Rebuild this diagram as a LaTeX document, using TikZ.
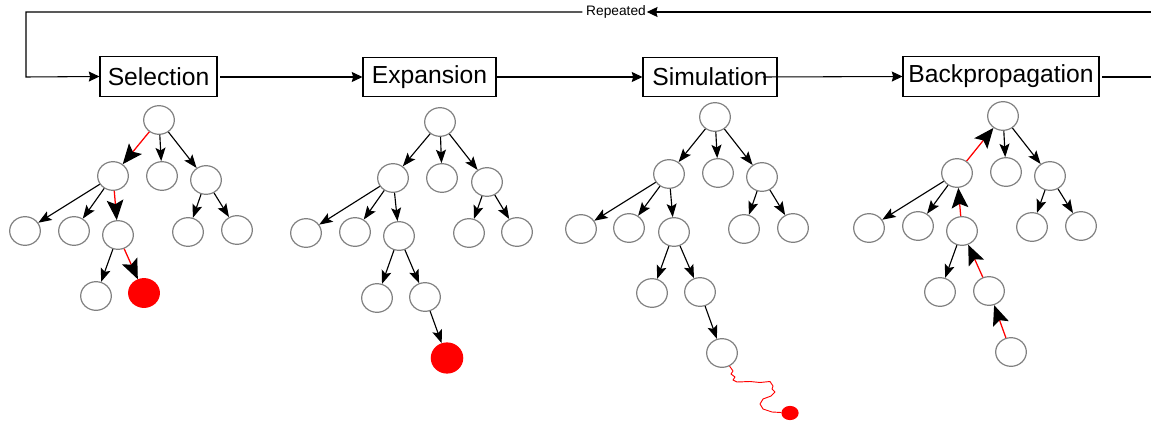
\documentclass[tikz,border=0pt]{standalone}
\usepackage{fontspec}
\setmainfont{Liberation Sans}
\usetikzlibrary{arrows.meta,shapes.geometric}
\begin{document}
\begin{tikzpicture}[x=0.75pt,y=-0.75pt,
 nd/.style={ellipse,draw=black!50,line width=0.9pt,fill=white,minimum width=23pt,minimum height=21.5pt,inner sep=0pt},
 hit/.style={nd,draw=red,fill=red},
 box/.style={draw,line width=0.8pt,fill=white,minimum height=29.5pt,inner sep=0pt,font=\fontsize{18.5}{20}\selectfont},
 flow/.style={line width=0.8pt,-{Stealth[length=8pt,width=7.5pt,inset=1pt]}},
 ed/.style={line width=0.85pt,-{Stealth[length=10pt,width=7.5pt,inset=2pt]}},
 sel/.style={line width=0.95pt,red,-{Stealth[length=15pt,width=12.5pt,inset=3pt,color=black]}},
]
\useasboundingbox (0,0) rectangle (1151,424);
% stage boxes
\node[box,minimum width=87.75pt] (s1) at (158.5,76.5) {Selection};
\node[box,minimum width=99.75pt] (s2) at (429.5,77) {\raisebox{2pt}{Expansion}};
\node[box,minimum width=100.5pt] (s3) at (710,77) {Simulation};
\node[box,minimum width=147pt] (s4) at (1001,76.5) {Backpropagation};
\node[font=\fontsize{10.3}{12}\selectfont,inner sep=0.6pt] (rep) at (616,12) {Repeated};
\coordinate (tr) at (1151.5,12);
\coordinate (tl) at (26,12);
\coordinate (bl) at (26,77);
\coordinate (br) at (1151.5,77);
\coordinate (s1o) at (220,77);
\coordinate (s2o) at (496,77);
\coordinate (s3o) at (763,77);
\coordinate (s4o) at (1102,77);
\draw[flow] (s1o) -- (s2.west);
\draw[flow] (s2o) -- (s3.west);
\draw[flow] (s3o) -- (s4.west);
\draw[flow] (s4o) -- (br) -- (tr) -- (rep.east);
\draw[flow] ([xshift=-2pt]rep.west) -- (tl) -- (bl) -- (s1.west);
% tree 1: selection
\node[nd] (a0) at (159,120) {};
\node[nd] (a1) at (113,176) {};
\node[nd] (a2) at (162,176) {};
\node[nd] (a3) at (206,180) {};
\node[nd] (a4) at (25,231) {};
\node[nd] (a5) at (74,231) {};
\node[nd] (a6) at (118,235) {};
\node[nd] (a7) at (188,232) {};
\node[nd] (a8) at (237,230) {};
\node[nd] (a9) at (96,296) {};
\node[hit] (a10) at (144,293) {};
\draw[sel] (a0) -- (a1);
\draw[ed] (a0) -- (a2);
\draw[ed] (a0) -- (a3);
\draw[ed] (a1) -- (a4);
\draw[ed] (a1) -- (a5);
\draw[sel] (a1) -- (a6);
\draw[ed] (a3) -- (a7);
\draw[ed] (a3) -- (a8);
\draw[ed] (a6) -- (a9);
\draw[sel] (a6) -- (a10);
% tree 2: expansion
\node[nd] (b0) at (440,122) {};
\node[nd] (b1) at (393,178) {};
\node[nd] (b2) at (442,178) {};
\node[nd] (b3) at (487,182) {};
\node[nd] (b4) at (306,233) {};
\node[nd] (b5) at (355,232) {};
\node[nd] (b6) at (399,236) {};
\node[nd] (b7) at (469,233) {};
\node[nd] (b8) at (517,232) {};
\node[nd] (b9) at (377,298) {};
\node[nd] (b10) at (425,297) {};
\node[hit,minimum width=23.5pt,minimum height=22.5pt] (b11) at (447,358) {};
\draw[ed] (b0) -- (b1);
\draw[ed] (b0) -- (b2);
\draw[ed] (b0) -- (b3);
\draw[ed] (b1) -- (b4);
\draw[ed] (b1) -- (b5);
\draw[ed] (b1) -- (b6);
\draw[ed] (b3) -- (b7);
\draw[ed] (b3) -- (b8);
\draw[ed] (b6) -- (b9);
\draw[ed] (b6) -- (b10);
\draw[ed] (b10) -- (b11);
% tree 3: simulation
\node[nd] (c0) at (715,117) {};
\node[nd] (c1) at (669,174) {};
\node[nd] (c2) at (718,173) {};
\node[nd] (c3) at (762,177) {};
\node[nd] (c4) at (581,229) {};
\node[nd] (c5) at (629,228) {};
\node[nd] (c6) at (674,232) {};
\node[nd] (c7) at (744,229) {};
\node[nd] (c8) at (793,228) {};
\node[nd] (c9) at (652,293) {};
\node[nd] (c10) at (700,292) {};
\node[nd] (c11) at (722,353) {};
\node[hit,minimum width=12pt,minimum height=9.75pt] (dot) at (790,413) {};
\draw[ed] (c0) -- (c1);
\draw[ed] (c0) -- (c2);
\draw[ed] (c0) -- (c3);
\draw[ed] (c1) -- (c4);
\draw[ed] (c1) -- (c5);
\draw[ed] (c1) -- (c6);
\draw[ed] (c3) -- (c7);
\draw[ed] (c3) -- (c8);
\draw[ed] (c6) -- (c9);
\draw[ed] (c6) -- (c10);
\draw[ed] (c10) -- (c11);
\draw[red,line width=0.7pt,line join=round] (c11.-60) -- (733,371) -- (731,374) -- (735,377) -- (733,380) -- (737,382)
  -- (750,381.5) -- (760,382.5) -- (770,381.5) -- (773,386) -- (772,389) -- (775,392) -- (771,396)
  -- (763,399) -- (760,404) -- (763,409) -- (772,412) -- (dot);
% tree 4: backpropagation
\node[nd] (d0) at (1003,116) {};
\node[nd] (d1) at (957,173) {};
\node[nd] (d2) at (1006,172) {};
\node[nd] (d3) at (1050,176) {};
\node[nd] (d4) at (869,228) {};
\node[nd] (d5) at (918,226) {};
\node[nd] (d6) at (962,231) {};
\node[nd] (d7) at (1032,227) {};
\node[nd] (d8) at (1081,226) {};
\node[nd] (d9) at (940,292) {};
\node[nd] (d10) at (989,291) {};
\node[nd] (d11) at (1011,352) {};
\draw[sel] (d1) -- (d0);
\draw[ed] (d0) -- (d2);
\draw[ed] (d0) -- (d3);
\draw[ed] (d1) -- (d4);
\draw[ed] (d1) -- (d5);
\draw[sel] (d6) -- (d1);
\draw[ed] (d3) -- (d7);
\draw[ed] (d3) -- (d8);
\draw[ed] (d6) -- (d9);
\draw[sel] (d10) -- (d6);
\draw[sel] (d11) -- (d10);
\end{tikzpicture}
\end{document}
